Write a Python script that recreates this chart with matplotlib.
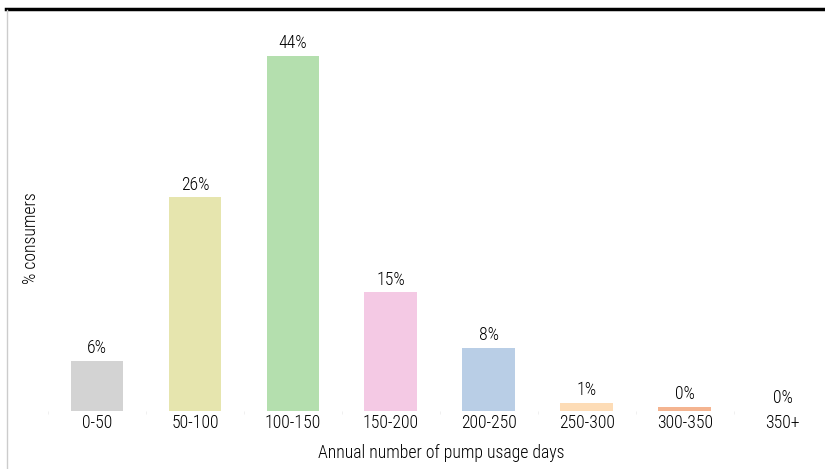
import matplotlib
matplotlib.use("Agg")
from matplotlib import pyplot as plt
from matplotlib import font_manager
from matplotlib.lines import Line2D

# usage buckets and share of consumers (%)
categories = ["0-50", "50-100", "100-150", "150-200", "200-250", "250-300", "300-350", "350+"]
shares = [6.2, 26.5, 44.0, 14.7, 7.8, 1.0, 0.5, 0.0]
colors = ["#d3d3d3", "#e6e5ae", "#b4dfae", "#f4c9e4", "#b9cee6", "#fddcb6", "#f4b490", "#f4b490"]

# pick a narrow sans face, light weight if there is one
narrow = None
light = None
for f in font_manager.fontManager.ttflist:
    fn = f.fname.lower()
    if ("narrow" in fn or "condensed" in fn) and "bold" not in fn and "italic" not in fn \
            and "oblique" not in fn:
        if "light" in fn and "extra" not in fn:
            light = f.fname
        elif "regular" in fn or narrow is None:
            narrow = f.fname
chosen = light or narrow
if chosen:
    fp = font_manager.FontProperties(fname=chosen)
else:
    fp = font_manager.FontProperties(family='Liberation Sans')

fig = plt.figure(figsize=(8.25, 4.69), dpi=100)
ax = fig.add_axes([48/825, 58/469, 777/825, 391/469])

fs = 12.8
x = range(len(categories))
bars = ax.bar(x, shares, width=0.54, color=colors)
for b, v in zip(bars, shares):
    ax.text(b.get_x() + b.get_width()/2, v + 0.45, "%d%%" % round(v),
            ha="center", va="bottom", fontproperties=fp, fontsize=fs, color="black")

ax.set_xlim(-0.5, 7.43)
ax.set_ylim(0, 48.45)
ax.set_xticks(list(x))
ax.set_xticklabels(categories, fontproperties=fp, fontsize=fs, color="black")
ax.tick_params(axis="x", length=0, pad=2)
ax.set_xticks([i + 0.5 for i in range(-1, 7)], minor=True)
ax.tick_params(axis="x", which="minor", length=2, color="#eeeeee")
ax.set_yticks([])
for s in ax.spines.values():
    s.set_visible(False)

fig.text(441/825, 1 - 453/469, "Annual number of pump usage days", ha="center", va="center",
         fontproperties=fp, fontsize=fs, color="black")
fig.text(31/825, 1 - 238/469, "% consumers", rotation=90, ha="center", va="center",
         fontproperties=fp, fontsize=fs, color="black")

# frame lines: heavy top rule, thin grey left edge
fig.add_artist(Line2D([6/825, 1], [1 - 9/469, 1 - 9/469], color="black", lw=2.5,
                      transform=fig.transFigure))
fig.add_artist(Line2D([6.5/825, 6.5/825], [0, 1 - 10/469], color="#cccccc", lw=1,
                      transform=fig.transFigure))

plt.savefig("out.png", dpi=100)
